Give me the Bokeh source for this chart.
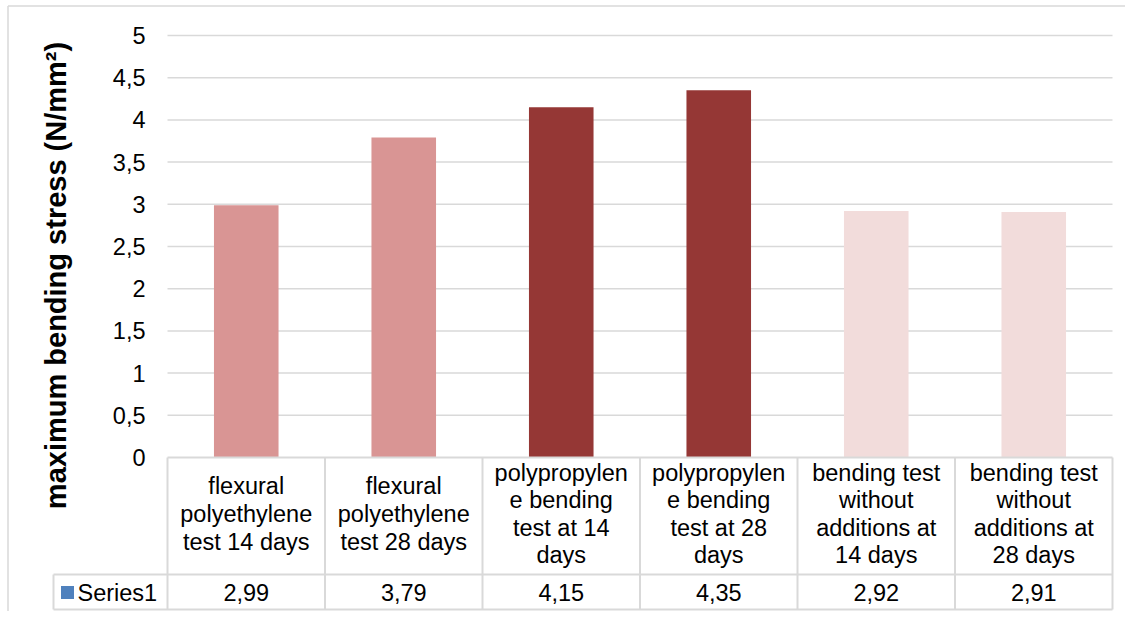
import math
from bokeh.plotting import figure
from bokeh.models import Range1d
from bokeh.core.properties import value
from bokeh.embed import file_html
from bokeh.resources import INLINE

# ---------------- data ----------------
categories = [
    "flexural\npolyethylene\ntest 14 days",
    "flexural\npolyethylene\ntest 28 days",
    "polypropylen\ne bending\ntest at 14\ndays",
    "polypropylen\ne bending\ntest at 28\ndays",
    "bending test\nwithout\nadditions at\n14 days",
    "bending test\nwithout\nadditions at\n28 days",
]
values = [2.99, 3.79, 4.15, 4.35, 2.92, 2.91]
bar_colors = ["#D99594", "#D99594", "#953735", "#953735", "#F2DCDB", "#F2DCDB"]
y_ticks = [0, 0.5, 1, 1.5, 2, 2.5, 3, 3.5, 4, 4.5, 5]
series_name = "Series1"
y_title = "maximum bending stress (N/mm²)"

# ---------------- layout helpers (page pixels -> data units) ----------------
W, H = 1125, 611
PAGE_OFF = 0
PLOT_LEFT = 167.0
CAT_PX = 157.5
Y0_PX = 457.0
UNIT_PX = 84.4


def px2x(px):
    return (px - PLOT_LEFT) / CAT_PX


def py2y(py):
    return (Y0_PX - py) / UNIT_PX


FONT = value("Liberation Sans")
GRID = "#D9D9D9"
TXT = "#000000"

p = figure(
    width=W, height=H,
    x_range=Range1d(px2x(PAGE_OFF), px2x(PAGE_OFF + W)),
    y_range=Range1d(py2y(PAGE_OFF + H), py2y(PAGE_OFF)),
    output_backend="svg", toolbar_location=None,
    x_axis_location=None, y_axis_location=None,
    min_border=0,
)
p.min_border_left = p.min_border_right = p.min_border_top = p.min_border_bottom = 0
p.outline_line_color = None
p.xgrid.visible = False
p.ygrid.visible = False
p.background_fill_color = "white"
p.border_fill_color = "white"

n = len(categories)
centers = [i + 0.5 for i in range(n)]

# outer chart border (left & top)
p.segment(x0=[px2x(7.5), px2x(7.5)], y0=[py2y(5.5), py2y(5.5)],
          x1=[px2x(7.5), px2x(PAGE_OFF + W)], y1=[py2y(PAGE_OFF + H), py2y(5.5)],
          line_color=GRID, line_width=1.5)

# gridlines
grid_ticks = [t for t in y_ticks if t > 0]
p.segment(x0=[0] * len(grid_ticks), x1=[n] * len(grid_ticks),
          y0=grid_ticks, y1=grid_ticks, line_color=GRID, line_width=1.5)

# bars
p.vbar(x=centers, top=values, bottom=0, width=0.41, fill_color=bar_colors,
       line_color=None)

# y tick labels
tick_labels = [f"{t:g}".replace(".", ",") for t in y_ticks]
p.text(x=[px2x(145)] * len(y_ticks), y=y_ticks, text=tick_labels,
       text_align="right", text_baseline="middle", text_font=FONT,
       text_font_size="23.5px", text_color=TXT)

# y axis title
p.text(x=[px2x(55)], y=[py2y(275)], text=[y_title], angle=math.pi / 2,
       text_align="center", text_baseline="alphabetic", text_font=FONT,
       text_font_size="29px", text_font_style="bold", text_color=TXT)

# data table lines
row1 = py2y(574)
row2 = py2y(609)
left_cell = px2x(53)
hx0 = [0, left_cell, left_cell]
hx1 = [n, n, n]
hy = [0, row1, row2]
p.segment(x0=hx0, x1=hx1, y0=hy, y1=hy, line_color=GRID, line_width=2)
vx = list(range(n + 1))
p.segment(x0=vx, x1=vx, y0=[0] * len(vx), y1=[row2] * len(vx),
          line_color=GRID, line_width=2)
p.segment(x0=[left_cell], x1=[left_cell], y0=[row1], y1=[row2],
          line_color=GRID, line_width=2)

# category header texts
p.text(x=centers, y=[py2y(513.5)] * n, text=categories,
       text_align="center", text_baseline="middle", text_font=FONT,
       text_font_size="23.5px", text_color=TXT, text_line_height=1.06)

# values row
val_labels = [f"{v:.2f}".replace(".", ",") for v in values]
p.text(x=centers, y=[py2y(592)] * n, text=val_labels,
       text_align="center", text_baseline="middle", text_font=FONT,
       text_font_size="23.5px", text_color=TXT)

# legend key + series name
p.scatter(x=[px2x(67)], y=[py2y(592)], marker="square", size=13,
          fill_color="#4F81BD", line_color=None)
p.text(x=[px2x(77)], y=[py2y(592)], text=[series_name],
       text_align="left", text_baseline="middle", text_font=FONT,
       text_font_size="23.5px", text_color=TXT)

open("out.html", "w").write(file_html(p, INLINE))
